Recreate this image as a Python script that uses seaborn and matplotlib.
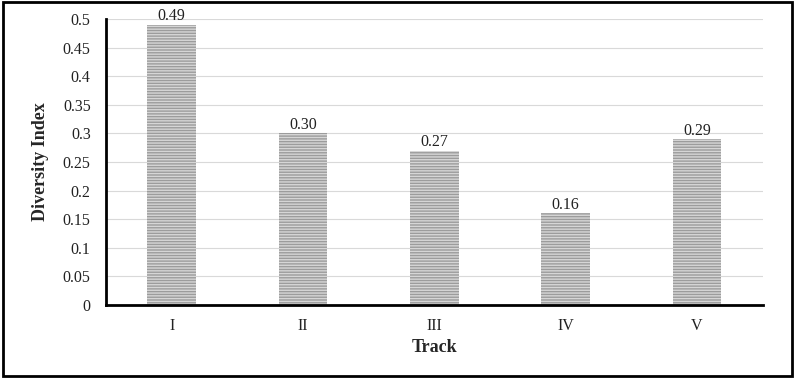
import matplotlib
matplotlib.use('Agg')
import matplotlib.pyplot as plt
import seaborn as sns
import pandas as pd
from matplotlib.patches import Rectangle

# data
tracks = ['I', 'II', 'III', 'IV', 'V']
diversity = [0.49, 0.30, 0.27, 0.16, 0.29]
bar_labels = ['0.49', '0.30', '0.27', '0.16', '0.29']

df = pd.DataFrame({'Track': tracks, 'Diversity Index': diversity})

sns.set_style('white')
plt.rcParams['font.family'] = ['Liberation Serif', 'DejaVu Serif']
plt.rcParams['hatch.color'] = '#d6d6d6'
plt.rcParams['hatch.linewidth'] = 1.0

fig = plt.figure(figsize=(7.97, 3.78), dpi=100)
ax = fig.add_axes([0.133, 0.193, 0.824, 0.757])

sns.barplot(data=df, x='Track', y='Diversity Index', ax=ax, color='#9c9c9c',
            width=0.37, saturation=1)
for p in ax.patches:
    p.set_hatch('------')
    p.set_edgecolor('#d6d6d6')
    p.set_linewidth(0)

for p, lab in zip(ax.patches, bar_labels):
    ax.text(p.get_x() + p.get_width() / 2, p.get_height() + 0.001, lab,
            ha='center', va='bottom', fontsize=11.5, color='#222222')

ax.set_ylim(0, 0.5)
ax.set_yticks([i * 0.05 for i in range(11)])
ax.set_yticklabels(['0', '0.05', '0.1', '0.15', '0.2', '0.25', '0.3', '0.35',
                    '0.4', '0.45', '0.5'])
ax.yaxis.grid(True, color='#d9d9d9', linewidth=0.8)
ax.set_axisbelow(True)
ax.tick_params(axis='both', length=0, labelsize=11.5, colors='#222222')
ax.tick_params(axis='y', pad=11)
ax.tick_params(axis='x', pad=9)

for s in ['top', 'right']:
    ax.spines[s].set_visible(False)
for s in ['left', 'bottom']:
    ax.spines[s].set_color('black')
    ax.spines[s].set_linewidth(2)

ax.set_xlabel('Track', fontsize=13, fontweight='bold', labelpad=4)
ax.set_ylabel('Diversity Index', fontsize=13, fontweight='bold', labelpad=10)

fig.patches.append(Rectangle((0.004, 0.006), 0.99, 0.988, transform=fig.transFigure,
                             fill=False, edgecolor='black', linewidth=2))

fig.savefig('out.png', dpi=100)
